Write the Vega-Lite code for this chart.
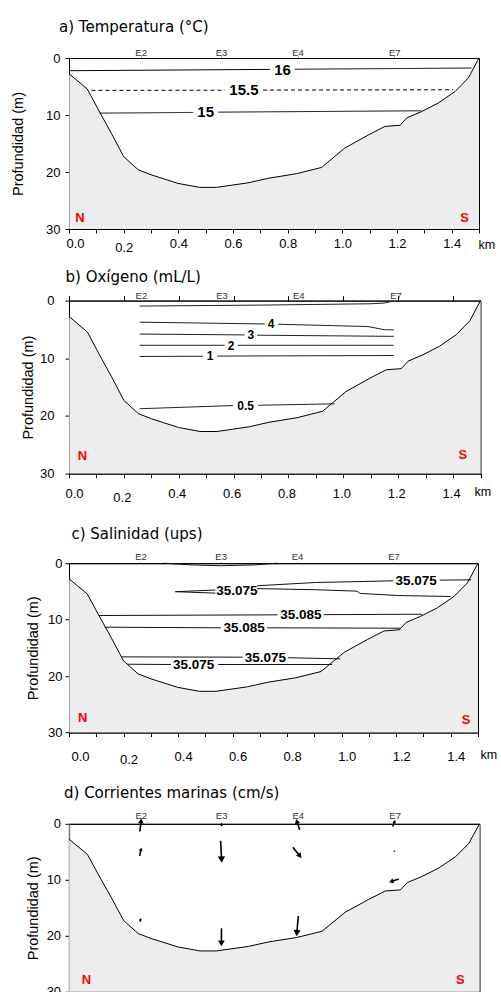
{
  "$schema": "https://vega.github.io/schema/vega-lite/v6.json",
  "padding": {"left": 5, "top": 19, "right": 2, "bottom": 0},
  "spacing": 14.6,
  "config": {
    "view": {"stroke": "black", "strokeWidth": 1},
    "font": "Liberation Sans",
    "axis": {"domainColor": "black", "domainWidth": 1, "tickColor": "black", "labelColor": "black", "titleColor": "black", "grid": false, "labelFont": "Liberation Sans", "titleFont": "Liberation Sans", "labelFontSize": 13, "titleFontSize": 14.5, "titleFontWeight": "normal", "tickSize": 4, "labelFlush": false, "labelOverlap": false, "labelBound": false},
    "title": {"font": "DejaVu Sans", "fontSize": 15, "fontWeight": "normal", "color": "black", "anchor": "start", "frame": "group"}
  },
  "datasets": {
    "bathy": [
      {"km": 0, "depth": 2.75}, {"km": 0.067, "depth": 5.45}, {"km": 0.118, "depth": 10.0}, {"km": 0.155, "depth": 13.2},
      {"km": 0.2, "depth": 17.3}, {"km": 0.253, "depth": 19.6}, {"km": 0.301, "depth": 20.5}, {"km": 0.399, "depth": 22.0},
      {"km": 0.478, "depth": 22.7}, {"km": 0.539, "depth": 22.7}, {"km": 0.655, "depth": 21.9}, {"km": 0.729, "depth": 21.1},
      {"km": 0.832, "depth": 20.3}, {"km": 0.924, "depth": 19.2}, {"km": 1.009, "depth": 15.8}, {"km": 1.095, "depth": 13.5},
      {"km": 1.156, "depth": 12.0}, {"km": 1.211, "depth": 11.8}, {"km": 1.236, "depth": 10.5}, {"km": 1.29, "depth": 9.4},
      {"km": 1.351, "depth": 7.9}, {"km": 1.412, "depth": 5.9}, {"km": 1.461, "depth": 3.5}, {"km": 1.5, "depth": 0}
    ],
    "temp": [
      {"level": "16", "seg": "16a", "km": 0, "depth": 2.23}, {"level": "16", "seg": "16a", "km": 0.735, "depth": 2.0},
      {"level": "16", "seg": "16b", "km": 0.826, "depth": 1.97}, {"level": "16", "seg": "16b", "km": 1.473, "depth": 1.76},
      {"level": "15.5", "seg": "155a", "km": 0.082, "depth": 5.68}, {"level": "15.5", "seg": "155a", "km": 0.57, "depth": 5.65},
      {"level": "15.5", "seg": "155b", "km": 0.71, "depth": 5.63}, {"level": "15.5", "seg": "155b", "km": 1.406, "depth": 5.57},
      {"level": "15", "seg": "15a", "km": 0.112, "depth": 9.67}, {"level": "15", "seg": "15a", "km": 0.454, "depth": 9.55},
      {"level": "15", "seg": "15b", "km": 0.546, "depth": 9.5}, {"level": "15", "seg": "15b", "km": 1.29, "depth": 9.26}
    ],
    "tempLabels": [
      {"label": "16", "km": 0.781, "depth": 2.05}, {"label": "15.5", "km": 0.64, "depth": 5.65}, {"label": "15", "km": 0.5, "depth": 9.55}
    ],
    "oxy": [
      {"seg": "5", "km": 0.2575, "depth": 0.95}, {"seg": "5", "km": 0.7, "depth": 0.78}, {"seg": "5", "km": 1.1, "depth": 0.55}, {"seg": "5", "km": 1.15, "depth": 0.42}, {"seg": "5", "km": 1.184, "depth": 0.05},
      {"seg": "4a", "km": 0.2575, "depth": 3.74}, {"seg": "4a", "km": 0.713, "depth": 4.05},
      {"seg": "4b", "km": 0.762, "depth": 4.1}, {"seg": "4b", "km": 1.09, "depth": 4.5}, {"seg": "4b", "km": 1.15, "depth": 5.05}, {"seg": "4b", "km": 1.184, "depth": 5.07},
      {"seg": "3a", "km": 0.2575, "depth": 5.8}, {"seg": "3a", "km": 0.64, "depth": 5.95},
      {"seg": "3b", "km": 0.686, "depth": 6.0}, {"seg": "3b", "km": 1.184, "depth": 6.2},
      {"seg": "2a", "km": 0.2575, "depth": 7.75}, {"seg": "2a", "km": 0.567, "depth": 7.75},
      {"seg": "2b", "km": 0.615, "depth": 7.75}, {"seg": "2b", "km": 1.184, "depth": 7.75},
      {"seg": "1a", "km": 0.2575, "depth": 9.69}, {"seg": "1a", "km": 0.488, "depth": 9.65},
      {"seg": "1b", "km": 0.54, "depth": 9.62}, {"seg": "1b", "km": 1.184, "depth": 9.52},
      {"seg": "05a", "km": 0.2575, "depth": 18.75}, {"seg": "05a", "km": 0.598, "depth": 18.2},
      {"seg": "05b", "km": 0.689, "depth": 18.15}, {"seg": "05b", "km": 0.968, "depth": 17.9}
    ],
    "oxyLabels": [
      {"label": "4", "km": 0.737, "depth": 4.1}, {"label": "3", "km": 0.663, "depth": 6.0}, {"label": "2", "km": 0.591, "depth": 7.8},
      {"label": "1", "km": 0.514, "depth": 9.65}, {"label": "0.5", "km": 0.644, "depth": 18.2}
    ],
    "sal": [
      {"seg": "lens", "km": 0.347, "depth": 0}, {"seg": "lens", "km": 0.45, "depth": 0.3}, {"seg": "lens", "km": 0.557, "depth": 0.45}, {"seg": "lens", "km": 0.68, "depth": 0.3}, {"seg": "lens", "km": 0.763, "depth": 0},
      {"seg": "wedge", "km": 0.537, "depth": 4.75}, {"seg": "wedge", "km": 0.39, "depth": 5.05}, {"seg": "wedge", "km": 0.537, "depth": 5.3},
      {"seg": "up1", "km": 0.69, "depth": 4.0}, {"seg": "up1", "km": 0.904, "depth": 3.42}, {"seg": "up1", "km": 1.19, "depth": 3.12},
      {"seg": "up2", "km": 1.36, "depth": 3.0}, {"seg": "up2", "km": 1.475, "depth": 2.95},
      {"seg": "low", "km": 0.69, "depth": 4.5}, {"seg": "low", "km": 0.904, "depth": 4.7}, {"seg": "low", "km": 1.056, "depth": 4.95}, {"seg": "low", "km": 1.068, "depth": 5.35}, {"seg": "low", "km": 1.209, "depth": 5.73}, {"seg": "low", "km": 1.399, "depth": 5.9},
      {"seg": "85Ua", "km": 0.109, "depth": 9.27}, {"seg": "85Ua", "km": 0.765, "depth": 9.15},
      {"seg": "85Ub", "km": 0.935, "depth": 9.12}, {"seg": "85Ub", "km": 1.295, "depth": 9.04},
      {"seg": "85La", "km": 0.131, "depth": 11.34}, {"seg": "85La", "km": 0.557, "depth": 11.45},
      {"seg": "85Lb", "km": 0.727, "depth": 11.45}, {"seg": "85Lb", "km": 1.215, "depth": 11.52},
      {"seg": "75Ma", "km": 0.194, "depth": 16.6}, {"seg": "75Ma", "km": 0.637, "depth": 16.65},
      {"seg": "75Mb", "km": 0.803, "depth": 16.75}, {"seg": "75Mb", "km": 0.995, "depth": 16.95},
      {"seg": "75La", "km": 0.213, "depth": 17.9}, {"seg": "75La", "km": 0.374, "depth": 17.95},
      {"seg": "75Lb", "km": 0.547, "depth": 17.95}, {"seg": "75Lb", "km": 0.965, "depth": 17.95}
    ],
    "salLabels": [
      {"label": "35.075", "km": 0.616, "depth": 4.95}, {"label": "35.075", "km": 1.273, "depth": 3.1},
      {"label": "35.085", "km": 0.85, "depth": 9.15}, {"label": "35.085", "km": 0.642, "depth": 11.5},
      {"label": "35.075", "km": 0.72, "depth": 16.75}, {"label": "35.075", "km": 0.457, "depth": 18.05}
    ],
    "currents": [
      {"station": "E2", "km0": 0.259, "d0": 1.37, "km1": 0.2635, "d1": -0.52, "dir": 5.7, "speed": 13},
      {"station": "E2", "km0": 0.2585, "d0": 5.72, "km1": 0.263, "d1": 4.53, "dir": 11, "speed": 6},
      {"station": "E2", "km0": 0.259, "d0": 17.47, "km1": 0.262, "d1": 17.05, "dir": 30, "speed": 3},
      {"station": "E3", "km0": 0.557, "d0": -0.1, "km1": 0.5575, "d1": 0.35, "dir": 180, "speed": 2},
      {"station": "E3", "km0": 0.554, "d0": 3.04, "km1": 0.5575, "d1": 6.38, "dir": 177, "speed": 22},
      {"station": "E3", "km0": 0.557, "d0": 18.66, "km1": 0.557, "d1": 21.34, "dir": 180, "speed": 18},
      {"station": "E4", "km0": 0.8426, "d0": 1.07, "km1": 0.8326, "d1": -0.47, "dir": 343, "speed": 11.5},
      {"station": "E4", "km0": 0.818, "d0": 4.17, "km1": 0.8436, "d1": 5.75, "dir": 142, "speed": 14},
      {"station": "E4", "km0": 0.838, "d0": 16.46, "km1": 0.8325, "d1": 19.52, "dir": 185, "speed": 20.7},
      {"station": "E7", "km0": 1.183, "d0": 0.48, "km1": 1.19, "d1": -0.42, "dir": 18, "speed": 5},
      {"station": "E7", "km0": 1.1885, "d0": 4.95, "km1": 1.189, "d1": 4.85, "dir": 0, "speed": 1},
      {"station": "E7", "km0": 1.205, "d0": 9.84, "km1": 1.1774, "d1": 10.3, "dir": 252, "speed": 10.5}
    ]
  },
  "vconcat": [
    {
      "title": {"text": "a) Temperatura (°C)", "dx": -10, "offset": 12.4},
      "width": 410, "height": 171,
      "resolve": {"axis": {"x": "independent", "y": "independent"}},
      "layer": [
        {
          "data": {"name": "bathy"},
          "mark": {"type": "area", "color": "#e5e5e5", "line": {"color": "black", "strokeWidth": 1}},
          "encoding": {
            "x": {"field": "km", "type": "quantitative", "scale": {"domain": [0, 1.5], "nice": false, "zero": false},
              "axis": {"orient": "bottom", "values": [0, 0.1, 0.2, 0.3, 0.4, 0.5, 0.6, 0.7, 0.8, 0.9, 1, 1.1, 1.2, 1.3, 1.4, 1.5],
                "labelExpr": "(round(datum.value*10) % 2 == 0 && datum.value < 1.45) ? format(datum.value, '.1f') : ''",
                "labelPadding": {"condition": {"test": "datum.value == 0.2", "value": 8.4}, "value": 4.4},
                "labelOffset": {"condition": {"test": "datum.value == 0", "value": 6}, "value": 0},
                "title": "km", "titleX": 409, "titleY": 15, "titleAlign": "left", "titleBaseline": "middle", "titleAngle": 0, "titleFontSize": 12.5}},
            "y": {"field": "depth", "type": "quantitative", "scale": {"domain": [0, 30], "reverse": true, "nice": false, "zero": false},
              "axis": {"values": [0, 10, 20, 30], "labelPadding": 5, "title": "Profundidad (m)", "titlePadding": 20.5}},
            "y2": {"datum": 30}
          }
        },
        {
          "data": {"name": "temp"},
          "mark": {"type": "line", "color": "black", "strokeWidth": 1},
          "encoding": {
            "x": {"field": "km", "type": "quantitative",
              "axis": {"orient": "top", "values": [0.262, 0.556, 0.836, 1.19], "title": null,
                "labelExpr": "datum.value == 0.262 ? 'E2' : datum.value == 0.556 ? 'E3' : datum.value == 0.836 ? 'E4' : 'E7'",
                "tickSize": 2, "tickColor": "#888", "labelPadding": -1.4, "labelFontSize": 9.5, "labelColor": "#333"}},
            "y": {"field": "depth", "type": "quantitative", "axis": null},
            "detail": {"field": "seg"},
            "strokeDash": {"field": "level", "type": "nominal", "scale": {"domain": ["16", "15.5", "15"], "range": [[1, 0], [4, 3], [1, 0]]}, "legend": null},
            "order": {"value": null}
          }
        },
        {
          "data": {"name": "tempLabels"},
          "mark": {"type": "text", "fontWeight": "bold", "fontSize": 15, "color": "black", "baseline": "middle"},
          "encoding": {
            "x": {"field": "km", "type": "quantitative", "axis": null},
            "y": {"field": "depth", "type": "quantitative", "axis": null},
            "text": {"field": "label"}
          }
        },
        {
          "data": {"values": [{"t": "N", "km": 0.04, "depth": 28.1}, {"t": "S", "km": 1.447, "depth": 28.1}]},
          "mark": {"type": "text", "fontWeight": "bold", "fontSize": 13, "color": "#ff0000", "baseline": "middle"},
          "encoding": {
            "x": {"field": "km", "type": "quantitative", "axis": null},
            "y": {"field": "depth", "type": "quantitative", "axis": null},
            "text": {"field": "t"}
          }
        }
      ]
    },
    {
      "title": {"text": "b) Oxígeno (mL/L)", "dx": -3.5, "offset": 4.8},
      "width": 411.5, "height": 173,
      "resolve": {"axis": {"x": "independent", "y": "independent"}},
      "layer": [
        {
          "data": {"name": "bathy"},
          "mark": {"type": "area", "color": "#e5e5e5", "line": {"color": "black", "strokeWidth": 1}},
          "encoding": {
            "x": {"field": "km", "type": "quantitative", "scale": {"domain": [0, 1.5], "nice": false, "zero": false},
              "axis": {"orient": "bottom", "values": [0, 0.1, 0.2, 0.3, 0.4, 0.5, 0.6, 0.7, 0.8, 0.9, 1, 1.1, 1.2, 1.3, 1.4, 1.5],
                "labelExpr": "(round(datum.value*10) % 2 == 0 && datum.value < 1.45) ? format(datum.value, '.1f') : ''",
                "labelPadding": {"condition": {"test": "datum.value == 0.2", "value": 13.6}, "value": 10.3},
                "labelOffset": {"condition": {"test": "datum.value == 0", "value": 5}, "value": -2},
                "title": "km", "titleX": 405, "titleY": 17.5, "titleAlign": "left", "titleBaseline": "middle", "titleAngle": 0, "titleFontSize": 12.5}},
            "y": {"field": "depth", "type": "quantitative", "scale": {"domain": [0, 30], "reverse": true, "nice": false, "zero": false},
              "axis": {"values": [0, 10, 20, 30], "labelPadding": 11, "title": ["", "Profundidad (m)"], "titleLineHeight": 10.5, "titlePadding": 4}},
            "y2": {"datum": 30}
          }
        },
        {
          "data": {"name": "oxy"},
          "mark": {"type": "line", "color": "#222", "strokeWidth": 1},
          "encoding": {
            "x": {"field": "km", "type": "quantitative",
              "axis": {"orient": "top", "values": [0, 0.2, 0.4, 0.6, 0.8, 1, 1.2, 1.4, 0.262, 0.556, 0.836, 1.19], "title": null,
                "labelExpr": "datum.value == 0.262 ? 'E2' : datum.value == 0.556 ? 'E3' : datum.value == 0.836 ? 'E4' : datum.value == 1.19 ? 'E7' : ''",
                "tickSize": 5, "tickOpacity": {"condition": {"test": "datum.value == 0.262 || datum.value == 0.556 || datum.value == 0.836 || datum.value == 1.19", "value": 0}, "value": 1},
                "labelPadding": -4.4, "labelFontSize": 9.5, "labelColor": "#333"}},
            "y": {"field": "depth", "type": "quantitative", "axis": null},
            "detail": {"field": "seg"},
            "order": {"value": null}
          }
        },
        {
          "data": {"name": "oxyLabels"},
          "mark": {"type": "text", "fontWeight": "bold", "fontSize": 12, "color": "black", "baseline": "middle"},
          "encoding": {
            "x": {"field": "km", "type": "quantitative", "axis": null},
            "y": {"field": "depth", "type": "quantitative", "axis": null},
            "text": {"field": "label"}
          }
        },
        {
          "data": {"values": [{"t": "N", "km": 0.049, "depth": 26.9}, {"t": "S", "km": 1.436, "depth": 26.8}]},
          "mark": {"type": "text", "fontWeight": "bold", "fontSize": 13, "color": "#ff0000", "baseline": "middle"},
          "encoding": {
            "x": {"field": "km", "type": "quantitative", "axis": null},
            "y": {"field": "depth", "type": "quantitative", "axis": null},
            "text": {"field": "t"}
          }
        }
      ]
    },
    {
      "title": {"text": ["", "c) Salinidad (ups)"], "lineHeight": 5.5, "dx": 2.4, "offset": 9.8},
      "width": 409, "height": 169.3,
      "resolve": {"axis": {"x": "independent", "y": "independent"}},
      "layer": [
        {
          "data": {"name": "bathy"},
          "mark": {"type": "area", "color": "#e5e5e5", "line": {"color": "black", "strokeWidth": 1}},
          "encoding": {
            "x": {"field": "km", "type": "quantitative", "scale": {"domain": [0, 1.5], "nice": false, "zero": false},
              "axis": {"orient": "bottom", "values": [0, 0.1, 0.2, 0.3, 0.4, 0.5, 0.6, 0.7, 0.8, 0.9, 1, 1.1, 1.2, 1.3, 1.4, 1.5],
                "labelExpr": "(round(datum.value*10) % 2 == 0 && datum.value < 1.45) ? format(datum.value, '.1f') : ''",
                "labelPadding": {"condition": {"test": "datum.value == 0.2", "value": 16.7}, "value": 14.4},
                "labelOffset": {"condition": {"test": "datum.value == 0", "value": 11}, "value": 5},
                "title": "km", "titleX": 411, "titleY": 22.3, "titleAlign": "left", "titleBaseline": "middle", "titleAngle": 0, "titleFontSize": 12.5}},
            "y": {"field": "depth", "type": "quantitative", "scale": {"domain": [0, 30], "reverse": true, "nice": false, "zero": false},
              "axis": {"values": [0, 10, 20, 30], "labelPadding": 3, "title": ["", "Profundidad (m)"], "titleLineHeight": 18, "titlePadding": 7}},
            "y2": {"datum": 30}
          }
        },
        {
          "data": {"name": "sal"},
          "mark": {"type": "line", "color": "#111", "strokeWidth": 1},
          "encoding": {
            "x": {"field": "km", "type": "quantitative",
              "axis": {"orient": "top", "values": [0.262, 0.556, 0.836, 1.19], "title": null,
                "labelExpr": "datum.value == 0.262 ? 'E2' : datum.value == 0.556 ? 'E3' : datum.value == 0.836 ? 'E4' : 'E7'",
                "tickSize": 2, "tickColor": "#bbb", "labelPadding": -0.6, "labelFontSize": 9.5, "labelColor": "#333"}},
            "y": {"field": "depth", "type": "quantitative", "axis": null},
            "detail": {"field": "seg"},
            "order": {"value": null}
          }
        },
        {
          "data": {"name": "salLabels"},
          "mark": {"type": "text", "fontWeight": "bold", "fontSize": 13.5, "color": "black", "baseline": "middle"},
          "encoding": {
            "x": {"field": "km", "type": "quantitative", "axis": null},
            "y": {"field": "depth", "type": "quantitative", "axis": null},
            "text": {"field": "label"}
          }
        },
        {
          "data": {"values": [{"t": "N", "km": 0.05, "depth": 27.5}, {"t": "S", "km": 1.456, "depth": 27.7}]},
          "mark": {"type": "text", "fontWeight": "bold", "fontSize": 13, "color": "#ff0000", "baseline": "middle"},
          "encoding": {
            "x": {"field": "km", "type": "quantitative", "axis": null},
            "y": {"field": "depth", "type": "quantitative", "axis": null},
            "text": {"field": "t"}
          }
        }
      ]
    },
    {
      "title": {"text": ["", "d) Corrientes marinas (cm/s)"], "lineHeight": 3.7, "dx": -5, "offset": 9.8},
      "width": 410.5, "height": 168,
      "resolve": {"axis": {"x": "independent", "y": "independent"}},
      "layer": [
        {
          "data": {"name": "bathy"},
          "mark": {"type": "area", "color": "#e5e5e5", "line": {"color": "black", "strokeWidth": 1}},
          "encoding": {
            "x": {"field": "km", "type": "quantitative", "scale": {"domain": [0, 1.5], "nice": false, "zero": false},
              "axis": {"orient": "bottom", "values": [0, 0.1, 0.2, 0.3, 0.4, 0.5, 0.6, 0.7, 0.8, 0.9, 1, 1.1, 1.2, 1.3, 1.4, 1.5],
                "labelExpr": "(round(datum.value*10) % 2 == 0 && datum.value < 1.45) ? format(datum.value, '.1f') : ''",
                "labelPadding": {"condition": {"test": "datum.value == 0.2", "value": 14}, "value": 10},
                "labelOffset": {"condition": {"test": "datum.value == 0", "value": 6}, "value": 0},
                "title": "km", "titleX": 409, "titleY": 20, "titleAlign": "left", "titleBaseline": "middle", "titleAngle": 0, "titleFontSize": 12.5}},
            "y": {"field": "depth", "type": "quantitative", "scale": {"domain": [0, 30], "reverse": true, "nice": false, "zero": false},
              "axis": {"values": [0, 10, 20, 30], "labelPadding": 4.4, "title": ["", "Profundidad (m)"], "titleLineHeight": 20, "titlePadding": 5.5, "domainColor": "#777", "domainWidth": 1.5}},
            "y2": {"datum": 30}
          }
        },
        {
          "data": {"name": "currents"},
          "mark": {"type": "rule", "color": "black", "strokeWidth": 1.6},
          "encoding": {
            "x": {"field": "km0", "type": "quantitative",
              "axis": {"orient": "top", "values": [0.262, 0.556, 0.836, 1.19], "title": null,
                "labelExpr": "datum.value == 0.262 ? 'E2' : datum.value == 0.556 ? 'E3' : datum.value == 0.836 ? 'E4' : 'E7'",
                "tickSize": 2, "tickColor": "#bbb", "labelPadding": 1, "labelFontSize": 9.5, "labelColor": "#333"}},
            "y": {"field": "d0", "type": "quantitative", "axis": null},
            "x2": {"field": "km1"},
            "y2": {"field": "d1"}
          }
        },
        {
          "data": {"name": "currents"},
          "mark": {"type": "point", "shape": "triangle-up", "filled": true, "color": "black", "opacity": 1},
          "encoding": {
            "x": {"field": "km1", "type": "quantitative", "axis": null},
            "y": {"field": "d1", "type": "quantitative", "axis": null},
            "angle": {"field": "dir", "type": "quantitative", "scale": null},
            "size": {"field": "speed", "type": "quantitative", "scale": {"domain": [0, 22], "range": [0, 55]}, "legend": null}
          }
        },
        {
          "data": {"values": [{"t": "N", "km": 0.064, "depth": 27.9}, {"t": "S", "km": 1.43, "depth": 27.9}]},
          "mark": {"type": "text", "fontWeight": "bold", "fontSize": 13, "color": "#ff0000", "baseline": "middle"},
          "encoding": {
            "x": {"field": "km", "type": "quantitative", "axis": null},
            "y": {"field": "depth", "type": "quantitative", "axis": null},
            "text": {"field": "t"}
          }
        }
      ]
    }
  ]
}
